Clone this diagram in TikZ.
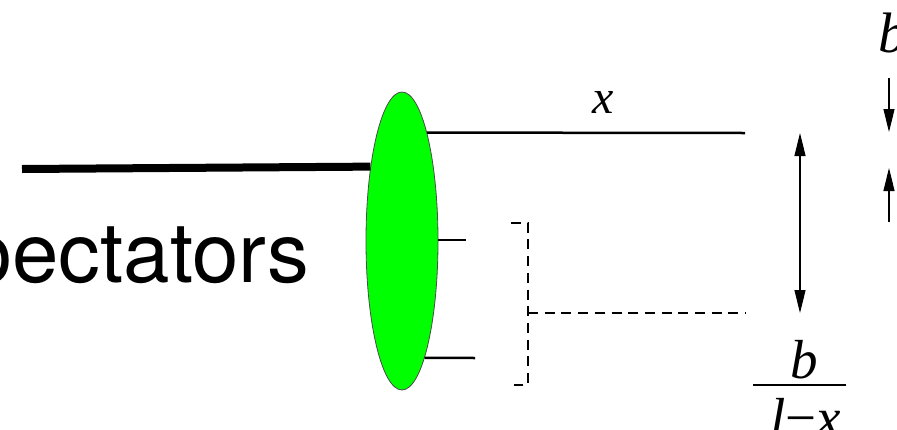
\documentclass[tikz,border=0pt]{standalone}
\usepackage{fontspec}
\setmainfont{Liberation Serif}
\newfontfamily\helv{TeX Gyre Heros}
\newfontfamily\tms{Liberation Serif}
\usetikzlibrary{shapes.geometric,arrows.meta}
\definecolor{brightgreen}{RGB}{0,255,0}
\tikzset{
  thinline/.style={line width=2.5pt},
  dashline/.style={line width=2.6pt, dash pattern=on 10pt off 6.7pt},
  dimarrow/.style={line width=1.1pt, -{Triangle[length=23pt,width=11pt]}},
  dimboth/.style={line width=1.1pt, {Triangle[length=23pt,width=11pt]}-{Triangle[length=23pt,width=11pt]}},
  lbl/.style={inner sep=0pt, font=\tms\itshape\fontsize{48}{50}\selectfont},
  lblbig/.style={inner sep=0pt, font=\tms\itshape\fontsize{55}{60}\selectfont},
}
\begin{document}
\begin{tikzpicture}[x=1pt,y=-1pt]
\useasboundingbox (0,0) rectangle (897,429);
\clip (0,0) rectangle (897,429);
% text
\node[inner sep=0pt, anchor=base east, font=\helv\fontsize{83.5}{88}\selectfont] (spec) at (309,282) {spectators};
% ellipse
\coordinate (tl) at (22,169);
\node[ellipse, minimum width=72pt, minimum height=298pt, inner sep=0pt, fill=brightgreen, draw=black!70, line width=0.8pt] (e) at (402,241) {};
\draw[line width=8pt] (tl) -- (e.113.6);
% lines from ellipse
\coordinate (xend) at (745,133);
\draw[thinline] (e.77) -- (xend);
\node[lbl, anchor=base] (xl) at (603,113) {x};
\coordinate (m1) at (466,240);
\draw[thinline] (e.east) ++(0,-1) -- (m1);
\coordinate (m2) at (475,358);
\draw[thinline] (e.-79) -- (m2);
% dashed bracket
\coordinate (bt0) at (511,223);
\coordinate (bt1) at (528,223);
\coordinate (bb1) at (528,385);
\coordinate (bb0) at (514,385);
\coordinate (bm) at (528,313);
\coordinate (bmend) at (746,313);
\draw[dashline] (bt0) -- (bt1) -- (bb1) -- (bb0);
\draw[dashline] (bm) -- (bmend);
% double arrow
\coordinate (da1) at (800,133);
\coordinate (da2) at (800,313);
\draw[dimboth] (da1) -- (da2);
% right arrows
\node[inner sep=0pt, font=\tms\itshape\fontsize{57}{60}\selectfont, anchor=base west] (bt) at (878,52) {b};
\coordinate (a1s) at (889,78);
\coordinate (a1e) at (889,132);
\draw[dimarrow] (a1s) -- (a1e);
\coordinate (a2s) at (889,222);
\coordinate (a2e) at (889,168);
\draw[dimarrow] (a2s) -- (a2e);
% fraction
\node[lblbig, anchor=base] (fb) at (804,378) {b};
\coordinate (fbar0) at (753,385);
\coordinate (fbar1) at (846,385);
\draw[line width=2.4pt] (fbar0) -- (fbar1);
\node[lblbig, anchor=base] (fd) at (806,436) {l{\upshape −}x};
\end{tikzpicture}
\end{document}
